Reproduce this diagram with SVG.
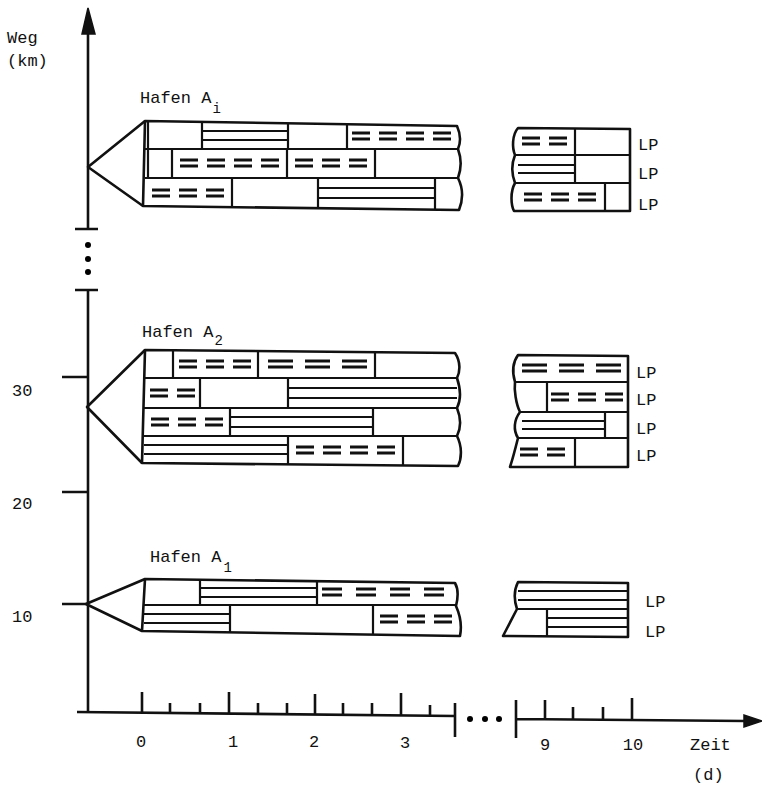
<svg xmlns="http://www.w3.org/2000/svg" width="762" height="790" viewBox="0 0 762 790">
<style>
text{font-family:"Liberation Mono","DejaVu Sans Mono",monospace;font-size:17px;fill:#111}
.o{fill:none;stroke:#111;stroke-width:2.6;stroke-linejoin:round}
.d{fill:none;stroke:#111;stroke-width:2.2}
.s{fill:none;stroke:#111;stroke-width:2}
.q{fill:none;stroke:#111;stroke-width:3.2;stroke-dasharray:18 9}
.w{stroke-dasharray:25 12}
.v{stroke-dasharray:20 14}
.ax{fill:none;stroke:#111;stroke-width:2.6}
.sub{font-size:14px}
</style>
<rect width="762" height="790" fill="#fff"/>
<g id="axes">
<path class="ax" d="M88,30 V230 M75,229 H98 M75,290 H98 M88,290 V713"/>
<circle cx="88" cy="245" r="3"/><circle cx="88" cy="259" r="3"/><circle cx="88" cy="272" r="3"/>
<path d="M88,8 L95,34 L82,34 Z" fill="#111" stroke="#111" stroke-width="1.5"/>
<path class="ax" d="M62,377 H88 M62,492 H88 M62,604 H88"/>
<path class="ax" d="M77,712 L455,716 M455,703 V737 M516,700 V738 M516,719 L745,721"/>
<path d="M762,721 L744,715 L744,727 Z" fill="#111" stroke="#111" stroke-width="1.5"/>
<circle cx="470" cy="719" r="3"/><circle cx="485" cy="719" r="3"/><circle cx="499" cy="719" r="3"/>
<path class="ax" d="M142,692 V713 M170,703 V713 M200,703 V714 M229,692 V714 M258,703 V714 M287,703 V714 M315,694 V715 M343,703 V715 M372,703 V715 M401,693 V715 M430,705 V716 M545,700 V720 M573,707 V720 M603,707 V720 M632,698 V720"/>
<text x="7" y="43">Weg</text>
<text x="7" y="66">(km)</text>
<text x="12" y="396">30</text>
<text x="12" y="509">20</text>
<text x="12" y="622">10</text>
<text x="141" y="747" text-anchor="middle">0</text>
<text x="233" y="747" text-anchor="middle">1</text>
<text x="314" y="747" text-anchor="middle">2</text>
<text x="405" y="748" text-anchor="middle">3</text>
<text x="545" y="750" text-anchor="middle">9</text>
<text x="633" y="750" text-anchor="middle">10</text>
<text x="690" y="750">Zeit</text>
<text x="693" y="780">(d)</text>
</g>
<g id="hafen-ai">
<text x="140" y="103">Hafen A<tspan class="sub" dx="1" dy="10">i</tspan></text>
<path class="o" d="M145,121 L88,167 L143,206"/>
<path class="o" d="M145,121 L457,126 C461,135 461,142 458,149 C462,160 461,170 458,178 C463,188 463,200 459,210 L143,206 Z"/>
<path class="d" d="M145,149 H458 M145,178 H458 M148,121 V149 M202,122 V149 M288,123 V149 M347,124 V149 M148,149 V178 M172,149 V178 M287,149 V178 M375,149 V178 M232,178 V207 M318,178 V208 M435,178 V209"/>
<path class="s" d="M202,131 H288 M202,140 H288 M318,188 H435 M318,198 H435"/>
<path class="q" d="M352,133 H451 M352,139 H451 M180,160 H279 M180,166 H279 M295,160 H367 M295,166 H367 M152,190 H224 M152,196 H224"/>
</g>
<g id="hafen-ai-end">
<path class="o" d="M518,128 L630,129 V211 L514,211 C511,205 510,192 515,183 C512,175 511,165 515,155 C512,148 512,135 518,128 Z"/>
<path class="d" d="M515,155 H630 M515,183 H630 M575,128 V183 M605,183 V211"/>
<path class="s" d="M518,165 H575 M518,173 H575"/>
<path class="q" d="M522,138 H567 M522,144 H567 M524,194 H596 M524,200 H596"/>
<text x="638" y="150">LP</text>
<text x="638" y="179">LP</text>
<text x="638" y="210">LP</text>
</g>
<g id="hafen-a2">
<text x="142" y="337">Hafen A<tspan class="sub" dx="1" dy="8">2</tspan></text>
<path class="o" d="M145,350 L87,407 L142,463"/>
<path class="o" d="M145,350 L455,353 C461,362 460,372 457,378 C461,390 461,400 457,408 C461,418 461,428 457,436 C462,446 462,458 458,466 L142,463 Z"/>
<path class="d" d="M144,378 H457 M143,408 H457 M143,436 H457 M173,350 V378 M258,351 V378 M375,352 V378 M200,378 V408 M288,378 V408 M230,408 V436 M373,408 V436 M288,436 V464 M403,436 V465"/>
<path class="s" d="M288,388 H457 M288,398 H457 M230,417 H373 M230,427 H373 M144,445 H288 M144,454 H288"/>
<path class="q" d="M179,361 H251 M179,367 H251 M150,390 H195 M150,396 H195 M151,419 H223 M151,425 H223 M296,447 H395 M296,453 H395"/>
<path class="q w" d="M268,361 H367 M268,367 H367"/>
</g>
<g id="hafen-a2-end">
<path class="o" d="M518,355 L628,356 V467 L510,467 C513,458 516,446 518,438 C513,430 514,420 520,412 C516,404 514,390 515,382 C512,372 513,362 518,355 Z"/>
<path class="d" d="M515,382 H628 M519,412 H628 M517,438 H628 M547,382 V412 M605,412 V438 M575,438 V467"/>
<path class="s" d="M522,421 H605 M522,429 H605"/>
<path class="q" d="M551,394 H623 M551,400 H623 M520,449 H565 M520,455 H565"/>
<path class="q w" d="M522,365 H621 M522,371 H621"/>
<text x="636" y="378">LP</text>
<text x="636" y="405">LP</text>
<text x="636" y="434">LP</text>
<text x="636" y="461">LP</text>
</g>
<g id="hafen-a1">
<text x="150" y="562">Hafen A<tspan class="sub" dx="2" dy="10">1</tspan></text>
<path class="o" d="M145,579 L86,604 L142,631"/>
<path class="o" d="M145,579 L455,583 C459,590 458,598 456,606 C460,615 462,626 460,636 L142,631 Z"/>
<path class="d" d="M144,605 H456 M200,579 V605 M317,580 V606 M230,605 V632 M373,606 V634"/>
<path class="s" d="M200,588 H317 M200,597 H317 M144,614 H230 M144,623 H230"/>
<path class="q" d="M380,616 H452 M380,622 H452"/>
<path class="q v" d="M322,589 H444 M322,595 H444"/>
</g>
<g id="hafen-a1-end">
<path class="o" d="M518,582 L628,583 V637 L503,636 L517,609 C514,600 514,590 518,582 Z"/>
<path class="d" d="M517,609 H628 M547,609 V637"/>
<path class="s" d="M518,591 H628 M518,600 H628 M547,618 H628 M547,627 H628"/>
<text x="645" y="607">LP</text>
<text x="645" y="637">LP</text>
</g>
</svg>
